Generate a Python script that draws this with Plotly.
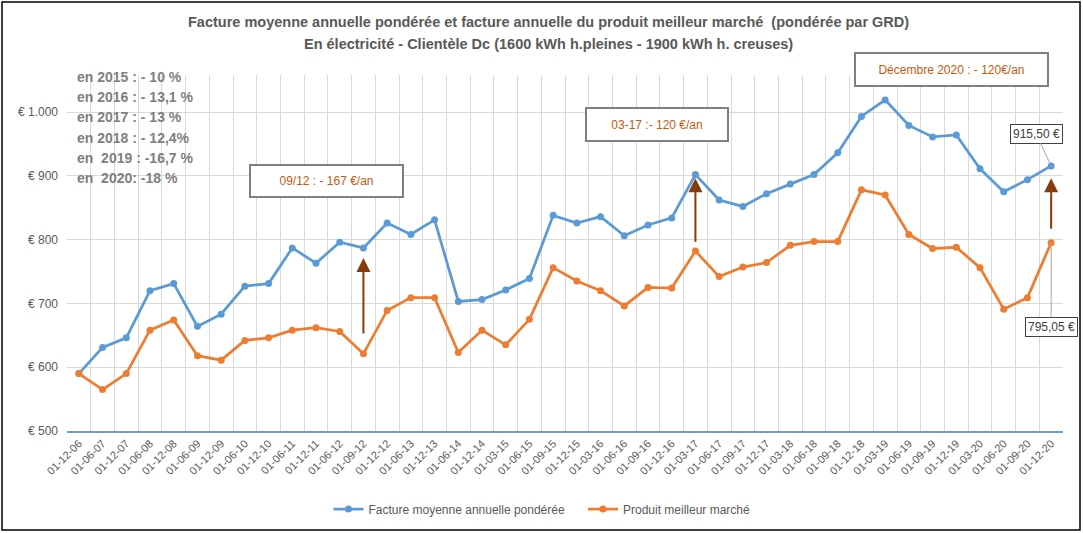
import plotly.graph_objects as go

categories = ["01-12-06", "01-06-07", "01-12-07", "01-06-08", "01-12-08", "01-06-09", "01-12-09",
              "01-06-10", "01-12-10", "01-06-11", "01-12-11", "01-06-12", "01-09-12", "01-12-12",
              "01-06-13", "01-12-13", "01-06-14", "01-12-14", "01-03-15", "01-06-15", "01-09-15",
              "01-12-15", "01-03-16", "01-06-16", "01-09-16", "01-12-16", "01-03-17", "01-06-17",
              "01-09-17", "01-12-17", "01-03-18", "01-06-18", "01-09-18", "01-12-18", "01-03-19",
              "01-06-19", "01-09-19", "01-12-19", "01-03-20", "01-06-20", "01-09-20", "01-12-20"]

facture_moyenne = [590, 631, 646, 720, 731, 664, 683, 727, 731, 787, 763, 796, 787, 826, 808, 831,
                   703, 706, 721, 739, 838, 826, 836, 806, 823, 834, 902, 862, 852, 872, 887, 902,
                   936, 993, 1019, 979, 961, 964, 911, 875, 894, 915.50]

meilleur_marche = [590, 565, 590, 658, 674, 618, 611, 642, 646, 658, 662, 656, 621, 689, 709, 709,
                   623, 658, 635, 675, 756, 735, 720, 696, 725, 724, 782, 742, 757, 764, 791, 797,
                   797, 878, 870, 808, 786, 788, 756, 691, 709, 795.05]

y_tickvals = [500, 600, 700, 800, 900, 1000]
y_ticktext = ["€ 500", "€ 600", "€ 700", "€ 800", "€ 900", "€ 1.000"]

left_notes = ["en 2015 : - 10 %", "en 2016 : - 13,1 %", "en 2017 : - 13 %", "en 2018 : - 12,4%",
              "en \u00a02019 : -16,7 %", "en \u00a02020: -18 %"]

title_lines = ["Facture moyenne annuelle pondérée et facture annuelle du produit meilleur marché  (pondérée par GRD)",
               "En électricité - Clientèle Dc (1600 kWh h.pleines - 1900 kWh h. creuses)"]

# arrows: (category, tip value, tail offset px)
arrows = [("01-09-12", 771, 77), ("01-03-17", 896, 65), ("01-12-20", 896, 52)]

BLUE = "#5B9BD5"
ORANGE = "#ED7D31"
GREY_TXT = "#595959"
FONT = "Liberation Sans"

# plot area in pixels
L, R, T, B = 67, 1063, 75, 431
W, H = 1083, 533


def px(xp):
    return (xp - L) / (R - L)


def py(yp):
    return (B - yp) / (B - T)


fig = go.Figure()
fig.add_trace(go.Scatter(x=categories, y=facture_moyenne, mode="lines+markers",
                         name="Facture moyenne annuelle pondérée\u00a0\u00a0\u00a0\u00a0",
                         line=dict(color=BLUE, width=2.75), marker=dict(size=7, color=BLUE)))
fig.add_trace(go.Scatter(x=categories, y=meilleur_marche, mode="lines+markers",
                         name="Produit meilleur marché",
                         line=dict(color=ORANGE, width=2.75), marker=dict(size=7, color=ORANGE)))

annotations = []
for i, line in enumerate(title_lines):
    annotations.append(dict(xref="paper", yref="paper", x=px(548), y=py(22 + 22 * i),
                            text=f"<b>{line}</b>", showarrow=False, xanchor="center", yanchor="middle",
                            font=dict(family=FONT, size=14.5, color=GREY_TXT)))

for i, t in enumerate(left_notes):
    annotations.append(dict(xref="paper", yref="paper", x=px(75), y=py(77 + 20.2 * i),
                            text=f"<b>{t}</b>", showarrow=False, xanchor="left", yanchor="middle",
                            font=dict(family=FONT, size=14, color="#7F7F7F")))

boxes = [("09/12 : - 167 €/an", 326.5, 181, 151, 30),
         ("03-17 :- 120 €/an", 657, 124.5, 140, 31),
         ("Décembre 2020 : - 120€/an", 951.5, 69.5, 191, 31)]
for text, cx, cy, bw, bh in boxes:
    annotations.append(dict(xref="paper", yref="paper", x=px(cx), y=py(cy), text=text,
                            showarrow=False, xanchor="center", yanchor="middle",
                            width=bw, height=bh, borderpad=0, bgcolor="white",
                            bordercolor="#7F7F7F", borderwidth=2,
                            font=dict(family=FONT, size=12, color="#C55A11")))

for cat, tip, off in arrows:
    annotations.append(dict(x=cat, y=tip, xref="x", yref="y", ax=0, ay=off, text="",
                            showarrow=True, arrowhead=2, arrowsize=1.4, arrowwidth=2,
                            arrowcolor="#843C0C"))

# data labels for last points
annotations.append(dict(x=categories[-1], y=facture_moyenne[-1], xref="x", yref="y",
                        text="915,50 €", showarrow=True, arrowhead=0, arrowwidth=1,
                        arrowcolor="#A6A6A6", ax=-15, ay=-32, bgcolor="white",
                        bordercolor="#404040", borderwidth=1, borderpad=2,
                        font=dict(family=FONT, size=12, color="#404040")))
annotations.append(dict(x=categories[-1], y=meilleur_marche[-1], xref="x", yref="y",
                        text="795,05 €", showarrow=True, arrowhead=0, arrowwidth=1,
                        arrowcolor="#A6A6A6", ax=0, ay=84, bgcolor="white",
                        bordercolor="#404040", borderwidth=1, borderpad=2,
                        font=dict(family=FONT, size=12, color="#404040")))

shapes = [dict(type="rect", xref="paper", yref="paper", x0=px(2), x1=px(1080), y0=py(530), y1=py(2),
               line=dict(color="#000000", width=1.5), fillcolor="rgba(0,0,0,0)", layer="below")]

fig.update_layout(
    width=W, height=H,
    margin=dict(l=L, r=W - R, t=T, b=H - B, autoexpand=False),
    paper_bgcolor="white", plot_bgcolor="white",
    font=dict(family=FONT, color=GREY_TXT),
    showlegend=True,
    legend=dict(orientation="h", x=px(542), xanchor="center", yref="container", y=1 - 509 / H,
                yanchor="middle",
                font=dict(family=FONT, size=12, color=GREY_TXT), itemwidth=30,
                traceorder="normal", bgcolor="rgba(0,0,0,0)"),
    annotations=annotations,
    shapes=shapes,
    xaxis=dict(type="category", tickson="boundaries", showgrid=True, gridcolor="#D9D9D9",
               gridwidth=1, tickangle=-45, tickfont=dict(family=FONT, size=11, color=GREY_TXT),
               showline=True, linecolor="#6C9BD2", linewidth=1.5, ticks="", zeroline=False,
               automargin=False, range=[-0.5, len(categories) - 0.5]),
    yaxis=dict(range=[500, 1058], tickvals=y_tickvals, ticktext=y_ticktext, showgrid=True,
               gridcolor="#D9D9D9", gridwidth=1, zeroline=False, showline=False, automargin=False,
               tickfont=dict(family=FONT, size=12, color=GREY_TXT), ticklabelstandoff=8),
)

fig.write_html("out.html", config={"displayModeBar": False},
               post_script="document.body.style.margin='0';")
